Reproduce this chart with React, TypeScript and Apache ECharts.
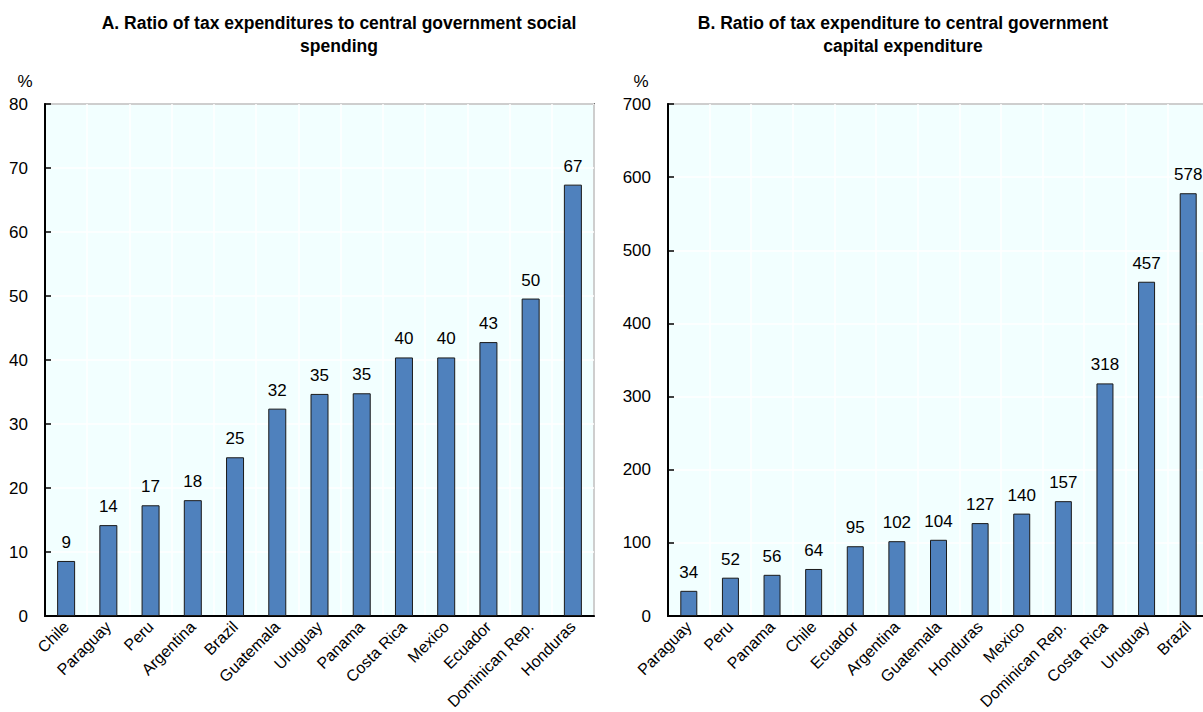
import React, { useEffect, useRef } from 'react';
import * as echarts from 'echarts';

const FONT = "'Liberation Sans', Arial, sans-serif";
const TITLE_FONT = "'Liberation Sans', Arial, sans-serif";

const titleA = 'A. Ratio of tax expenditures to central government social\nspending';
const titleB = 'B. Ratio of tax expenditure to central government\ncapital expenditure';

const categoriesA = ['Chile', 'Paraguay', 'Peru', 'Argentina', 'Brazil', 'Guatemala', 'Uruguay', 'Panama', 'Costa Rica', 'Mexico', 'Ecuador', 'Dominican Rep.', 'Honduras'];
const valuesA = [8.6, 14.2, 17.3, 18.1, 24.8, 32.4, 34.7, 34.8, 40.4, 40.4, 42.8, 49.6, 67.4];

const categoriesB = ['Paraguay', 'Peru', 'Panama', 'Chile', 'Ecuador', 'Argentina', 'Guatemala', 'Honduras', 'Mexico', 'Dominican Rep.', 'Costa Rica', 'Uruguay', 'Brazil'];
const valuesB = [34.4, 52.4, 56.3, 64.3, 95.4, 102.3, 104.2, 127, 140, 157, 318, 457, 578];

const yMaxA = 80;
const yStepA = 10;
const yMaxB = 700;
const yStepB = 100;

function xAxis(gridIndex: number, data: string[]) {
  return {
    type: 'category',
    gridIndex,
    data,
    axisLine: { lineStyle: { color: '#000', width: 2 } },
    axisTick: { inside: true, length: 5, lineStyle: { color: '#000', width: 1.5 } },
    axisLabel: { rotate: 45, color: '#000', fontSize: 16, fontFamily: FONT, margin: 8, interval: 0 },
    splitLine: { show: true, lineStyle: { color: '#ffffff', width: 1.5 } },
  };
}

function yAxis(gridIndex: number, max: number, step: number) {
  return {
    type: 'value',
    gridIndex,
    min: 0,
    max,
    interval: step,
    axisLine: { show: true, lineStyle: { color: '#000', width: 2 } },
    axisTick: { show: true, inside: true, length: 6, lineStyle: { color: '#000', width: 1.5 } },
    axisLabel: { color: '#000', fontSize: 17, fontFamily: FONT, margin: 17 },
    splitLine: { show: true, lineStyle: { color: '#ffffff', width: 1.5 } },
  };
}

function barSeries(idx: number, data: number[], width: number) {
  return {
    type: 'bar',
    xAxisIndex: idx,
    yAxisIndex: idx,
    data,
    barWidth: width,
    itemStyle: { color: '#4F81BD', borderColor: '#1a1a1a', borderWidth: 1 },
    label: {
      show: true,
      position: 'top',
      distance: 10,
      color: '#000',
      fontSize: 17,
      fontFamily: FONT,
      formatter: (p: any) => String(Math.round(p.value)),
    },
  };
}

export default function App() {
  const ref = useRef<HTMLDivElement>(null);
  useEffect(() => {
    if (!ref.current) return;
    const chart = echarts.init(ref.current, undefined, { renderer: 'svg' });
    chart.setOption({
      animation: false,
      backgroundColor: '#ffffff',
      textStyle: { fontFamily: FONT },
      grid: [
        { left: 45, top: 104, width: 549, height: 512, outerBoundsMode: 'none', containLabel: false, show: true, backgroundColor: '#F2FFFF', borderColor: '#000', borderWidth: 1.5 },
        { left: 668, top: 104, width: 541, height: 512, outerBoundsMode: 'none', containLabel: false, show: true, backgroundColor: '#F2FFFF', borderColor: '#000', borderWidth: 1.5 },
      ],
      xAxis: [xAxis(0, categoriesA), xAxis(1, categoriesB)],
      yAxis: [yAxis(0, yMaxA, yStepA), yAxis(1, yMaxB, yStepB)],
      series: [barSeries(0, valuesA, 18), barSeries(1, valuesB, 17)],
      graphic: [
        {
          type: 'text', x: 339, y: 11,
          style: { text: titleA, font: `bold 17.5px ${TITLE_FONT}`, textAlign: 'center', textVerticalAlign: 'top', fill: '#000', lineHeight: 23 },
        },
        {
          type: 'text', x: 903, y: 11,
          style: { text: titleB, font: `bold 17.5px ${TITLE_FONT}`, textAlign: 'center', textVerticalAlign: 'top', fill: '#000', lineHeight: 23 },
        },
        {
          type: 'text', x: 25, y: 81,
          style: { text: '%', font: `17px ${FONT}`, textAlign: 'center', textVerticalAlign: 'middle', fill: '#000' },
        },
        {
          type: 'text', x: 641, y: 81,
          style: { text: '%', font: `17px ${FONT}`, textAlign: 'center', textVerticalAlign: 'middle', fill: '#000' },
        },
      ],
    });
    return () => chart.dispose();
  }, []);
  return <div ref={ref} style={{ position: 'fixed', left: 0, top: 0, width: 1203, height: 712 }} />;
}
